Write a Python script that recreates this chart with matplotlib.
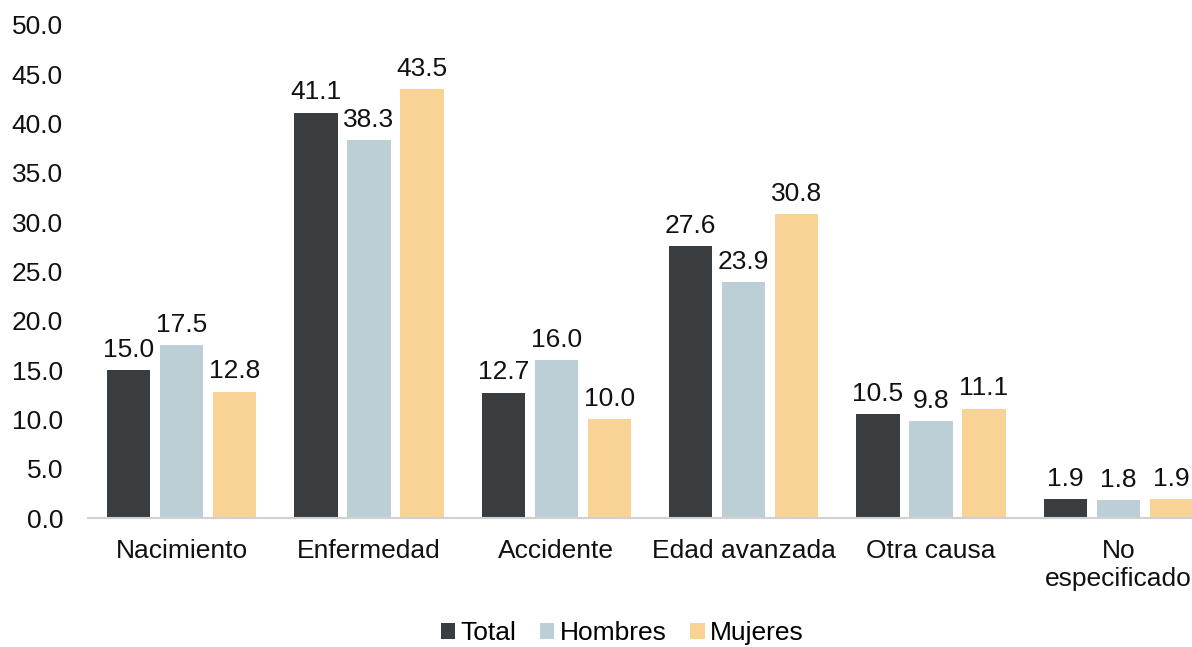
import numpy as np
import matplotlib.pyplot as plt

plt.rcParams['font.family'] = ['Liberation Sans', 'DejaVu Sans']

categorias = ['Nacimiento', 'Enfermedad', 'Accidente', 'Edad avanzada', 'Otra causa', 'No\nespecificado']
total = [15.0, 41.1, 12.7, 27.6, 10.5, 1.9]
hombres = [17.5, 38.3, 16.0, 23.9, 9.8, 1.8]
mujeres = [12.8, 43.5, 10.0, 30.8, 11.1, 1.9]

series = [('Total', total, '#3a3d40'),
          ('Hombres', hombres, '#bccfd6'),
          ('Mujeres', mujeres, '#f9d396')]

fs = 19

fig = plt.figure(figsize=(11.92, 6.47), dpi=100)
ax = fig.add_axes([88/1192, 129/647, 1 - 88/1192, (518 - 25)/647])

x = np.arange(len(categorias))
w = 0.23
paso = 0.283
for k, (nombre, vals, col) in enumerate(series):
    pos = x + (k - 1)*paso
    bars = ax.bar(pos, vals, width=w, color=col, label=nombre, zorder=2)
    for b, v in zip(bars, vals):
        ax.annotate('%.1f' % v, (b.get_x() + b.get_width()/2, v),
                    xytext=(0, 6), textcoords='offset points',
                    ha='center', va='bottom', fontsize=fs, color='#111111')

ax.set_xlim(-0.5, 5.5 - 20/187.5)
ax.set_ylim(0, 50)
ax.set_yticks(np.arange(0, 51, 5))
ax.set_yticklabels(['%.1f' % t for t in np.arange(0, 51, 5)])
ax.set_xticks(x)
ax.set_xticklabels(categorias)
ax.tick_params(axis='both', length=0, labelsize=fs, colors='#111111')
ax.tick_params(axis='y', pad=18)
ax.tick_params(axis='x', pad=15)
for s in ['top', 'right', 'left']:
    ax.spines[s].set_visible(False)
ax.spines['bottom'].set_color('#d0d0d0')
ax.spines['bottom'].set_linewidth(1.5)
ax.spines['bottom'].set_zorder(3)

fig.legend(loc='center', bbox_to_anchor=(0.522, 1 - 633/647), ncol=3, frameon=False,
           fontsize=fs, handlelength=0.55, handleheight=0.55, handletextpad=0.2,
           columnspacing=0.9)

fig.savefig('out.png', dpi=100)
